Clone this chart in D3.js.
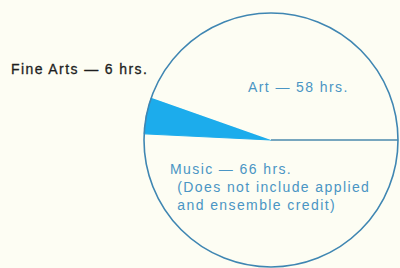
<!DOCTYPE html>
<html>
<head>
<meta charset="utf-8">
<script src="https://cdn.jsdelivr.net/npm/d3@7"></script>
<style>
	body { margin: 0; background: #fdfdf3; }
	svg { display: block; }
	text { font-family: "Liberation Sans", Arial, sans-serif; font-size: 14px; letter-spacing: 1.4px; }
</style>
</head>
<body>
<svg id="chart" width="400" height="268"></svg>
<script>
// clockwise from 3 o'clock
const categories = ['Music', 'Fine Arts', 'Art'];
const hours = [66, 6, 58];
const fills = ['#fdfdf3', '#1cacec', '#fdfdf3'];

const width = 400;
const height = 268;
const cx = 271;
const cy = 140;
const radius = 127;

const svg = d3.select('#chart');

const pie = d3.pie()
	.sort(null)
	.startAngle(Math.PI / 2)
	.endAngle(Math.PI / 2 + 2 * Math.PI);

const arc = d3.arc()
	.innerRadius(0)
	.outerRadius(radius);

const g = svg.append('g')
	.attr('transform', `translate(${cx},${cy})`);

g.selectAll('path')
	.data(pie(hours))
	.enter()
	.append('path')
	.attr('d', arc)
	.attr('fill', (d, i) => fills[i])
	.attr('stroke', (d, i) => i === 1 ? '#1cacec' : 'none');

// radial edge at 3 o'clock
g.append('line')
	.attr('x1', 0).attr('y1', 0)
	.attr('x2', radius).attr('y2', 0)
	.attr('stroke', '#4a88ad')
	.attr('stroke-width', 1.6);

g.append('circle')
	.attr('r', radius)
	.attr('fill', 'none')
	.attr('stroke', '#3f86b2')
	.attr('stroke-width', 1.6);

// labels
const labels = [
	{ lines: [`${categories[1]} — ${hours[1]} hrs.`], x: 11, y: 74, color: '#1e1e1e', stroke: 0.3 },
	{ lines: [`${categories[2]} — ${hours[2]} hrs.`], x: 248, y: 92, color: '#4a95c4', stroke: 0 },
	{ lines: [`${categories[0]} — ${hours[0]} hrs.`, ' (Does not include applied', ' and ensemble credit)'], x: 170, y: 174, color: '#4a95c4', stroke: 0 }
];

labels.forEach(l => {
	const t = svg.append('text')
		.attr('x', l.x)
		.attr('y', l.y)
		.attr('fill', l.color)
		.attr('stroke', l.stroke ? l.color : 'none')
		.attr('stroke-width', l.stroke)
		.attr('xml:space', 'preserve');
	l.lines.forEach((s, i) => {
		t.append('tspan')
			.attr('x', i === 0 ? l.x : l.x + 2)
			.attr('dy', i === 0 ? 0 : 18)
			.text(s);
	});
});
</script>
</body>
</html>
